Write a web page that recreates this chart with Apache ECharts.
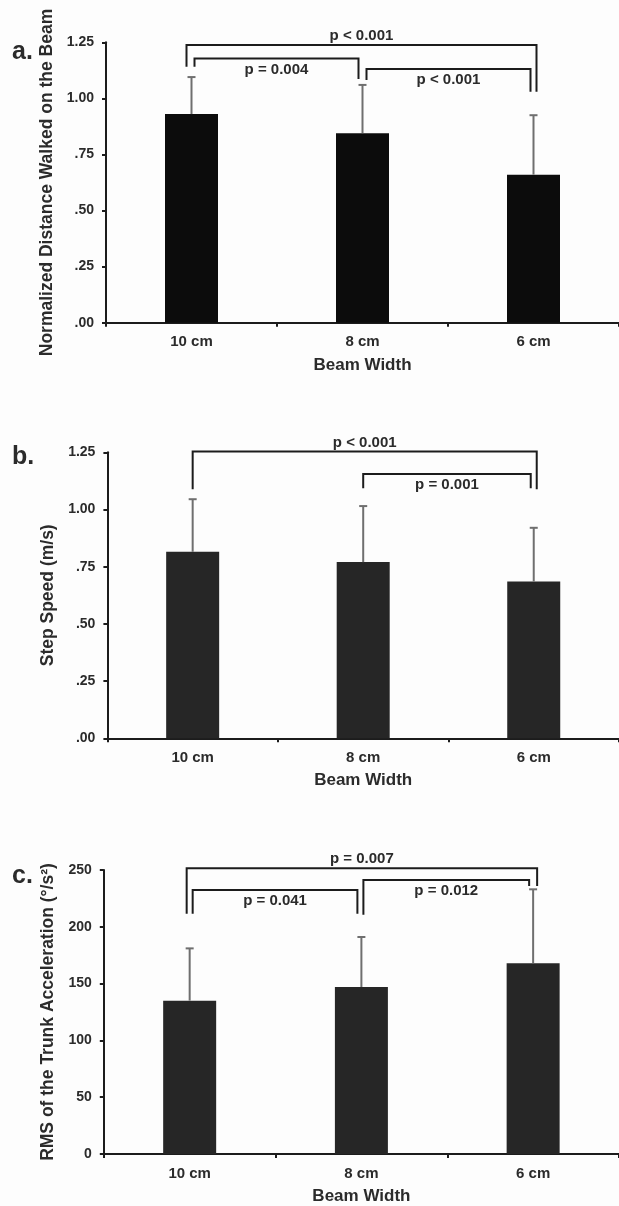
<!DOCTYPE html>
<html><head><meta charset="utf-8">
<script src="https://cdn.jsdelivr.net/npm/echarts@6/dist/echarts.min.js"></script>
<style>html,body{margin:0;padding:0;background:#fdfdfd}#c{width:619px;height:1206px}</style>
</head><body><div id="c"></div>
<script>
// ---------- data ----------
const categories = ['10 cm', '8 cm', '6 cm'];
const distanceMean = [0.93, 0.845, 0.66];
const distanceSD = [0.165, 0.215, 0.265];
const speedMean = [0.815, 0.77, 0.685];
const speedSD = [0.23, 0.245, 0.235];
const rmsMean = [135, 147, 168];
const rmsSD = [46, 44, 65];
const tickLabelsA = ['.00', '.25', '.50', '.75', '1.00', '1.25'];
const tickLabelsB = ['.00', '.25', '.50', '.75', '1.00', '1.25'];
const tickLabelsC = ['0', '50', '100', '150', '200', '250'];
// brackets: [fromIndex, toIndex, topValue, leftLegBottom, rightLegBottom]
const bracketsA = [[0, 2, 1.2375, 1.141, 1.029], [0, 1, 1.178, 1.141, 1.086], [1, 2, 1.131, 1.082, 1.029]];
const bracketLabelsA = ['p < 0.001', 'p = 0.004', 'p < 0.001'];
const bracketsB = [[0, 2, 1.253, 1.088, 1.088], [1, 2, 1.155, 1.093, 1.093]];
const bracketLabelsB = ['p < 0.001', 'p = 0.001'];
const bracketsC = [[0, 2, 251.5, 211.5, 236], [0, 1, 232.5, 211.5, 211.5], [1, 2, 241.3, 210.7, 236]];
const bracketLabelsC = ['p = 0.007', 'p = 0.041', 'p = 0.012'];

// ---------- style / layout ----------
const FONT = '"Liberation Sans", Arial, sans-serif';
const TXT = '#2b2b2b';
const AX = '#1c1c1c';
const panels = [
  { letter: 'a.', letterPos: [12, 40], grid: { left: 106, right: -5, top: 42.3, bottom: 883.3 },
    max: 1.25, interval: 0.25, ticks: tickLabelsA, yName: 'Normalized Distance Walked on the Beam', nameGap: 46,
    mean: distanceMean, sd: distanceSD, barColor: '#0c0c0c',
    brackets: bracketsA, labels: bracketLabelsA,
    legOffsets: [[-5, 3], [3, -4], [4, -3]], sides: ['above', 'below', 'below'] },
  { letter: 'b.', letterPos: [12, 445], grid: { left: 107.4, right: -11, top: 452.3, bottom: 467.7 },
    max: 1.25, interval: 0.25, ticks: tickLabelsB, yName: 'Step Speed (m/s)', nameGap: 46,
    mean: speedMean, sd: speedSD, barColor: '#262626',
    brackets: bracketsB, labels: bracketLabelsB,
    legOffsets: [[0, 3], [0, -3]], sides: ['above', 'below'] },
  { letter: 'c.', letterPos: [12, 864], grid: { left: 103.8, right: -11, top: 870, bottom: 50.3 },
    max: 250, interval: 50, ticks: tickLabelsC, yName: 'RMS of the Trunk Acceleration (°/s²)', nameGap: 43,
    mean: rmsMean, sd: rmsSD, barColor: '#262626',
    brackets: bracketsC, labels: bracketLabelsC,
    legOffsets: [[-3, 4], [3, -4], [2, -4]], sides: ['above', 'below', 'below'] }
];

function bracketRender(p) {
  return function (params, api) {
    const i = params.dataIndex;
    const from = api.value(0), to = api.value(1);
    const top = api.value(2), lb = api.value(3), rb = api.value(4);
    const pL = api.coord([from, top]), pR = api.coord([to, top]);
    const pLb = api.coord([from, lb]), pRb = api.coord([to, rb]);
    const xL = pL[0] + p.legOffsets[i][0], xR = pR[0] + p.legOffsets[i][1];
    return {
      type: 'group',
      children: [
        { type: 'polyline', shape: { points: [[xL, pLb[1]], [xL, pL[1]], [xR, pR[1]], [xR, pRb[1]]] },
          style: { stroke: AX, lineWidth: 2, fill: null } },
        { type: 'text', style: { text: p.labels[i], x: (xL + xR) / 2,
          y: pL[1] + (p.sides[i] === 'above' ? -9 : 11), align: 'center', verticalAlign: 'middle',
          fontSize: 15, fontWeight: 'bold', fontFamily: FONT, fill: TXT } }
      ]
    };
  };
}

function errRender(params, api) {
  const x = api.value(0), m = api.value(1), t = api.value(2);
  const p0 = api.coord([x, m]), p1 = api.coord([x, t]);
  const st = { stroke: '#6f6f6f', lineWidth: 2 };
  return {
    type: 'group', children: [
      { type: 'line', shape: { x1: p0[0], y1: p0[1], x2: p1[0], y2: p1[1] }, style: st },
      { type: 'line', shape: { x1: p1[0] - 4, y1: p1[1], x2: p1[0] + 4, y2: p1[1] }, style: st }
    ]
  };
}

const option = { backgroundColor: '#fdfdfd', animation: false, grid: [], xAxis: [], yAxis: [], series: [], graphic: [] };
panels.forEach((p, k) => {
  option.grid.push(p.grid);
  option.xAxis.push({
    type: 'category', gridIndex: k, data: categories, boundaryGap: true,
    name: 'Beam Width', nameLocation: 'middle', nameGap: 34,
    nameTextStyle: { fontSize: 17, fontWeight: 'bold', fontFamily: FONT, color: TXT },
    axisLine: { lineStyle: { color: AX, width: 2 } },
    axisTick: { show: true, inside: false, length: 4, alignWithLabel: false, interval: 0, lineStyle: { color: AX, width: 2 } },
    axisLabel: { margin: 12, fontSize: 15, fontWeight: 'bold', fontFamily: FONT, color: TXT, interval: 0 },
    splitLine: { show: false }
  });
  option.yAxis.push({
    type: 'value', gridIndex: k, min: 0, max: p.max, interval: p.interval,
    name: p.yName, nameLocation: 'middle', nameGap: p.nameGap, nameRotate: 90,
    nameTextStyle: { fontSize: 17.5, fontWeight: 'bold', fontFamily: FONT, color: TXT },
    axisLine: { show: true, lineStyle: { color: AX, width: 2 } },
    axisTick: { show: true, length: 4, lineStyle: { color: AX, width: 2 } },
    axisLabel: { margin: 12, fontSize: 14, fontWeight: 'bold', fontFamily: FONT, color: TXT,
      formatter: (v) => p.ticks[Math.round(v / p.interval)] },
    splitLine: { show: false }
  });
  option.series.push({
    type: 'bar', xAxisIndex: k, yAxisIndex: k, data: p.mean, barWidth: 53,
    itemStyle: { color: p.barColor }, z: 2
  });
  option.series.push({
    type: 'custom', xAxisIndex: k, yAxisIndex: k, renderItem: errRender, z: 3,
    data: p.mean.map((m, i) => [i, m, m + p.sd[i]]), encode: { x: 0, y: [1, 2] }
  });
  option.series.push({
    type: 'custom', xAxisIndex: k, yAxisIndex: k, renderItem: bracketRender(p), z: 4, clip: false,
    data: p.brackets, encode: { x: [0, 1], y: [2, 3, 4] }
  });
  option.graphic.push({
    type: 'text', left: p.letterPos[0], top: p.letterPos[1],
    style: { text: p.letter, fontSize: 25, fontWeight: 'bold', fontFamily: FONT, fill: TXT }
  });
});

const chart = echarts.init(document.getElementById('c'), null, { renderer: 'canvas' });
chart.setOption(option);
</script>
</body></html>
